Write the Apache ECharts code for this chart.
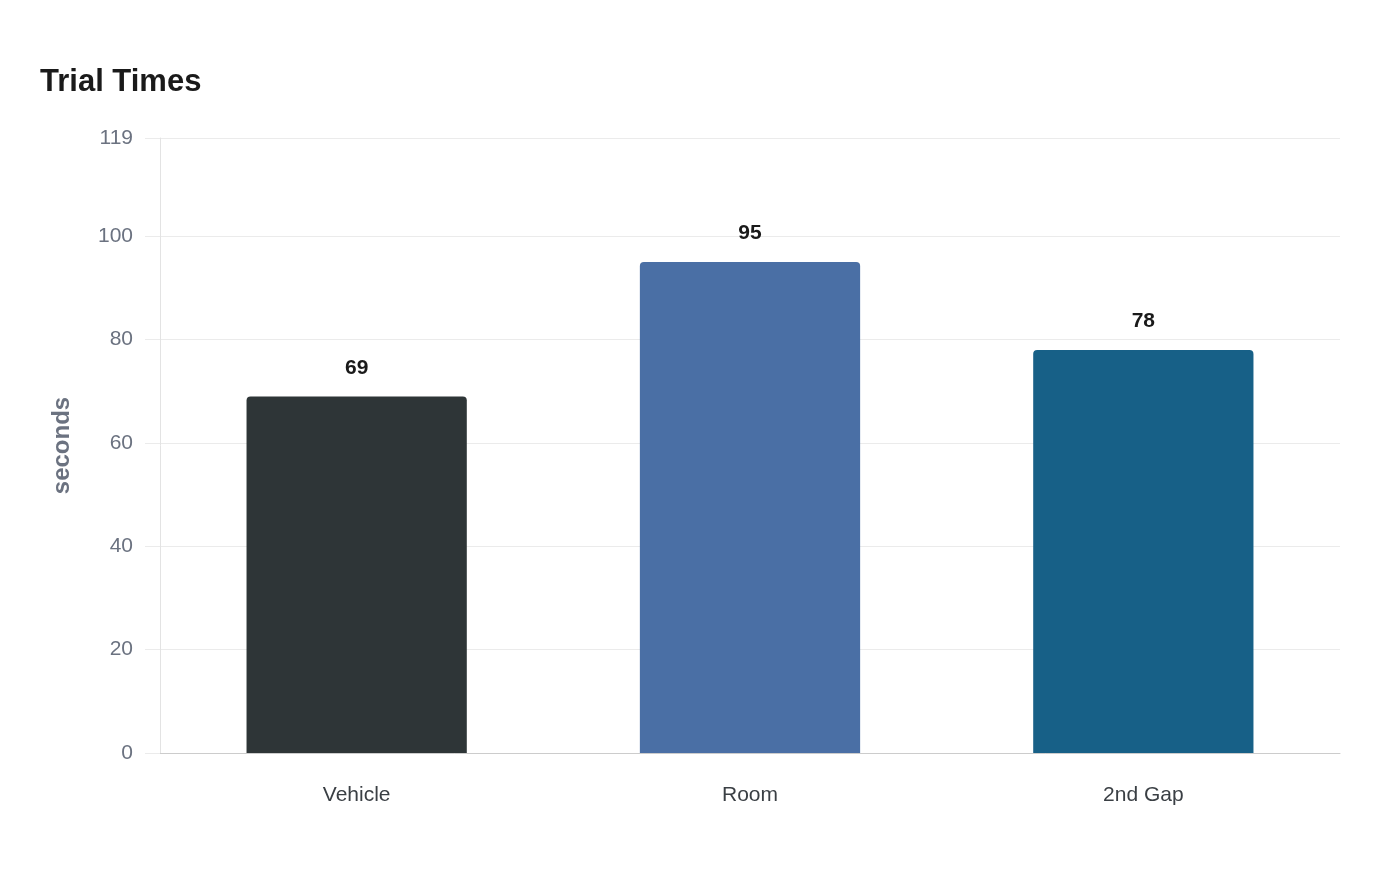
<!DOCTYPE html>
<html>
<head>
<meta charset="utf-8">
<script src="https://cdn.jsdelivr.net/npm/echarts@6/dist/echarts.min.js"></script>
<style>
html,body{margin:0;padding:0;background:#fff;}
#main{width:1400px;height:880px;}
</style>
</head>
<body>
<div id="main"></div>
<script>
const categories = ['Vehicle', 'Room', '2nd Gap'];
const values = [69, 95, 78];
const barColors = ['#2e3537', '#4a6fa5', '#176087'];
const yTicks = [0, 20, 40, 60, 80, 100, 119];

const chart = echarts.init(document.getElementById('main'));
const font = 'Liberation Sans';
chart.setOption({
  backgroundColor: '#ffffff',
  animation: false,
  textStyle: { fontFamily: font },
  title: {
    text: 'Trial Times',
    left: 35, top: 62,
    textStyle: { fontSize: 31, fontWeight: 'bold', color: '#1a1a1a', fontFamily: font }
  },
  grid: { left: 160, right: 60, top: 138, bottom: 127, containLabel: false },
  xAxis: {
    type: 'category',
    data: categories,
    axisLine: { show: true, lineStyle: { color: '#cccccc', width: 1 } },
    axisTick: { show: false },
    axisLabel: { fontSize: 21, color: '#3a3f44', margin: 32, fontFamily: font }
  },
  yAxis: {
    type: 'value',
    min: 0, max: 119,
    name: 'seconds',
    nameLocation: 'middle',
    nameGap: 86,
    nameTextStyle: { fontSize: 24, fontWeight: 'bold', color: '#6b7280', fontFamily: font },
    axisLine: { show: true, lineStyle: { color: '#e3e3e3' } },
    axisLabel: {
      fontSize: 21, color: '#6b7280', margin: 27, fontFamily: font,
      customValues: yTicks
    },
    axisTick: { show: true, length: 15, lineStyle: { color: '#ebebeb' }, customValues: yTicks },
    splitLine: { show: true, lineStyle: { color: '#ebebeb' } }
  },
  series: [{
    type: 'bar',
    barWidth: '56%',
    data: values.map((v, i) => ({ value: v, itemStyle: { color: barColors[i] } })),
    itemStyle: { borderRadius: [4, 4, 0, 0] },
    label: {
      show: true, position: 'top', distance: 18,
      fontSize: 21, fontWeight: 'bold', color: '#1a1a1a', fontFamily: font
    }
  }]
});
</script>
</body>
</html>
